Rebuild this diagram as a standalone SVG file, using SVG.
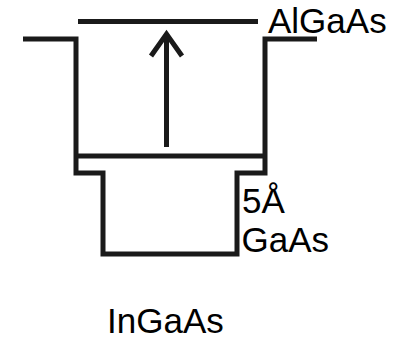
<svg xmlns="http://www.w3.org/2000/svg" width="395" height="339" viewBox="0 0 395 339">
<style>
.ln{fill:none;stroke:#1a1a1a;stroke-width:5;stroke-linecap:butt;stroke-linejoin:miter}
.t{font-family:"Liberation Sans",Arial,sans-serif;font-size:35px;fill:#000}
</style>
<rect width="395" height="339" fill="#fff"/>
<g id="connectors">
<path id="arrow" class="ln" d="M166.5,147 V34 M151,56 L166.5,34 L182,56"/>
</g>
<g id="well">
<path class="ln" d="M23,39 H76 V173 H103 V254 H237 V173 H265 V39 H317"/>
<path class="ln" d="M76,156 H265"/>
</g>
<g id="level">
<path class="ln" d="M78,21.5 H258"/>
</g>
<g id="labels">
<text class="t" x="268" y="33">AlGaAs</text>
<text class="t" x="242" y="213">5Å</text>
<text class="t" x="241.5" y="252">GaAs</text>
<text class="t" x="107" y="333">InGaAs</text>
</g>
</svg>
